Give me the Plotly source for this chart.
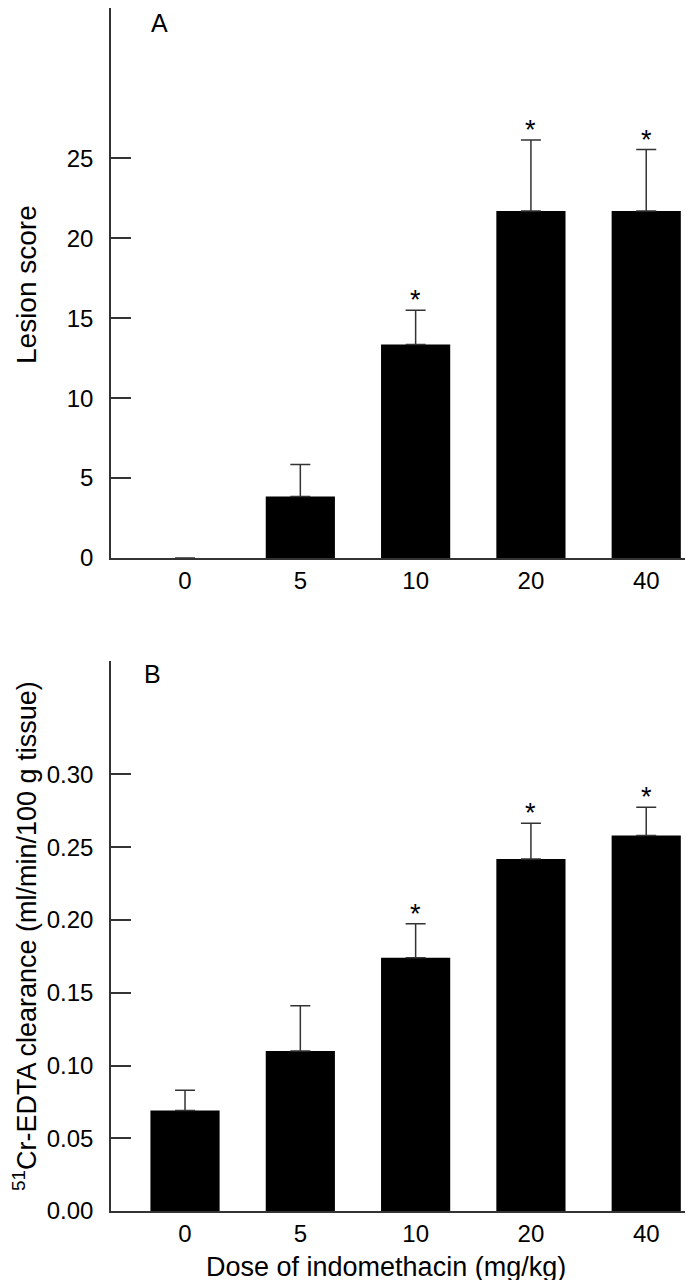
import plotly.graph_objects as go

doses = ["0", "5", "10", "20", "40"]

lesion_mean = [0, 3.85, 13.35, 21.7, 21.7]
lesion_sem = [None, 2.0, 2.15, 4.45, 3.85]
lesion_sig = [False, False, True, True, True]

edta_mean = [0.069, 0.110, 0.174, 0.242, 0.258]
edta_sem = [0.014, 0.031, 0.0235, 0.0245, 0.0195]
edta_sig = [False, False, True, True, True]

lesion_ticks = [0, 5, 10, 15, 20, 25]
edta_ticks = [0.0, 0.05, 0.10, 0.15, 0.20, 0.25, 0.30]

FONT = "Liberation Sans, Arial, sans-serif"
AX = "#333333"
W, H = 693, 1280
ML, MB = 103, 77
PW, PH = W - ML, H - MB


def px(xp):
    return (xp - ML) / PW


def py(yp):
    return (PH - yp) / PH


fig = go.Figure()

err_style = dict(type="data", symmetric=False, thickness=1.5, width=10, color=AX)

fig.add_trace(go.Bar(
    x=doses, y=lesion_mean, xaxis="x", yaxis="y",
    marker=dict(color="black", line=dict(width=0)),
    error_y=dict(array=lesion_sem, arrayminus=[0] * len(doses), **err_style),
    showlegend=False,
))
fig.add_trace(go.Bar(
    x=doses, y=edta_mean, xaxis="x2", yaxis="y2",
    marker=dict(color="black", line=dict(width=0)),
    error_y=dict(array=edta_sem, arrayminus=[0] * len(doses), **err_style),
    showlegend=False,
))

star_font = dict(size=27, color="black", family=FONT)
annotations = []
for i, (m, s, sig) in enumerate(zip(lesion_mean, lesion_sem, lesion_sig)):
    if sig:
        annotations.append(dict(x=i, y=m + s, xref="x", yref="y", text="*",
                                showarrow=False, yanchor="bottom", yshift=-7,
                                font=star_font))
for i, (m, s, sig) in enumerate(zip(edta_mean, edta_sem, edta_sig)):
    if sig:
        annotations.append(dict(x=i, y=m + s, xref="x2", yref="y2", text="*",
                                showarrow=False, yanchor="bottom", yshift=-7,
                                font=star_font))

panel_font = dict(size=25, color="black", family=FONT)
annotations.append(dict(x=px(141), y=1.0, xref="paper", yref="paper", text="A",
                        showarrow=False, xanchor="left", yanchor="top", yshift=1,
                        font=panel_font))
annotations.append(dict(x=px(134), y=py(650), xref="paper", yref="paper", text="B",
                        showarrow=False, xanchor="left", yanchor="top",
                        font=panel_font))

title_font = dict(size=28, color="black", family=FONT)
annotations.append(dict(x=px(18), y=py(277), xref="paper", yref="paper",
                        text="Lesion score", textangle=-90, showarrow=False,
                        xanchor="center", yanchor="middle", font=title_font))
annotations.append(dict(x=px(17), y=py(928), xref="paper", yref="paper",
                        text="<sup>51</sup>Cr-EDTA clearance (ml/min/100 g tissue)",
                        textangle=-90, showarrow=False,
                        xanchor="center", yanchor="middle",
                        font=dict(size=27, color="black", family=FONT)))
annotations.append(dict(x=px(378), y=py(1259), xref="paper", yref="paper",
                        text="Dose of indomethacin (mg/kg)", showarrow=False,
                        xanchor="center", yanchor="middle",
                        font=dict(size=27, color="black", family=FONT)))

xcommon = dict(
    type="category", range=[-0.642, 4.475], showline=True, linecolor=AX, linewidth=1.5,
    ticks="", showgrid=False, zeroline=False, ticklabelstandoff=0,
    tickfont=dict(size=24, color="black", family=FONT),
)
ycommon = dict(
    showline=True, linecolor=AX, linewidth=1.5, ticks="inside", ticklen=20,
    tickwidth=1.5, tickcolor=AX, showgrid=False, zeroline=False,
    ticklabelstandoff=11,
    tickfont=dict(size=24, color="black", family=FONT),
)

fig.update_layout(
    width=W, height=H,
    margin=dict(l=ML, r=0, t=0, b=MB),
    paper_bgcolor="white", plot_bgcolor="white",
    bargap=0.4,
    font=dict(family=FONT, color="black"),
    xaxis=dict(domain=[0, 1], anchor="y", **xcommon),
    yaxis=dict(domain=[py(550), 1.0], anchor="x", range=[0, 34.4],
               tickvals=lesion_ticks, ticktext=[str(t) for t in lesion_ticks],
               **ycommon),
    xaxis2=dict(domain=[0, 1], anchor="y2", **xcommon),
    yaxis2=dict(domain=[0, py(653)], anchor="x2", range=[0, 0.378],
                tickvals=edta_ticks, ticktext=[f"{t:.2f}" for t in edta_ticks],
                **ycommon),
    annotations=annotations,
)

fig.write_html("out.html")
